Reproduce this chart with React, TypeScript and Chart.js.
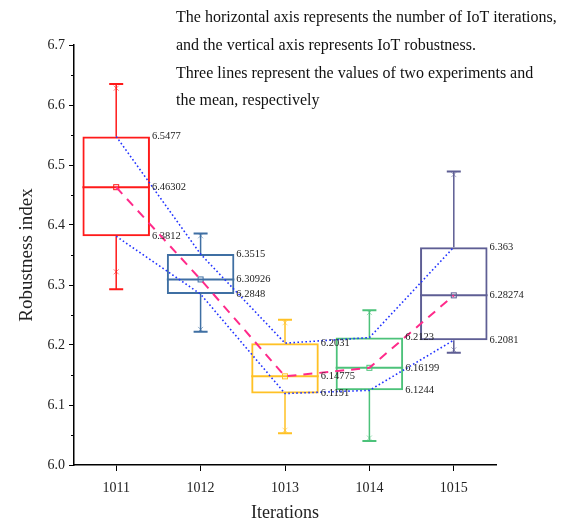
import React, { useEffect, useRef } from 'react';
import { Chart, registerables } from 'chart.js';

Chart.register(...registerables);

const categories = ['1011', '1012', '1013', '1014', '1015'];
const experiment1 = [6.5477, 6.3515, 6.2031, 6.2123, 6.363];
const experiment2 = [6.3812, 6.2848, 6.1191, 6.1244, 6.2081];
const meanValues = [6.46302, 6.30926, 6.14775, 6.16199, 6.28274];
const whiskerHigh = [6.635, 6.386, 6.242, 6.258, 6.489];
const whiskerLow = [6.293, 6.222, 6.053, 6.04, 6.187];
const markHigh = [6.628, 6.382, 6.237, 6.254, 6.484];
const markLow = [6.322, 6.226, 6.058, 6.045, 6.192];
const topLabels = ['6.5477', '6.3515', '6.2031', '6.2123', '6.363'];
const midLabels = ['6.46302', '6.30926', '6.14775', '6.16199', '6.28274'];
const lowLabels = ['6.3812', '6.2848', '6.1191', '6.1244', '6.2081'];
const boxColors = ['#ff1a1a', '#3f6fa3', '#ffc125', '#4cc27a', '#5e5e94'];
const noteLines = [
  'The horizontal axis represents the number of IoT iterations,',
  'and the vertical axis represents IoT robustness.',
  'Three lines represent the values of two experiments and',
  'the mean, respectively',
];
const minorTicks = [6.05, 6.15, 6.25, 6.35, 6.45, 6.55, 6.65];

const SERIF = '"Liberation Serif", "Times New Roman", serif';

const boxPlugin = {
  id: 'boxExtras',
  beforeDatasetsDraw(chart: any) {
    const { ctx, scales } = chart;
    const x = scales.x;
    const y = scales.y;
    const barMeta = chart.getDatasetMeta(3);
    ctx.save();
    categories.forEach((_, i) => {
      const cx = x.getPixelForValue(i);
      const bar = barMeta.data[i];
      const half = bar ? bar.width / 2 : 33;
      const col = boxColors[i];
      ctx.strokeStyle = col;
      ctx.lineWidth = 1.5;
      ctx.beginPath();
      ctx.moveTo(cx, y.getPixelForValue(experiment1[i]));
      ctx.lineTo(cx, y.getPixelForValue(whiskerHigh[i]));
      ctx.moveTo(cx, y.getPixelForValue(experiment2[i]));
      ctx.lineTo(cx, y.getPixelForValue(whiskerLow[i]));
      ctx.stroke();
      ctx.lineWidth = 2;
      ctx.beginPath();
      ctx.moveTo(cx - 7, y.getPixelForValue(whiskerHigh[i]));
      ctx.lineTo(cx + 7, y.getPixelForValue(whiskerHigh[i]));
      ctx.moveTo(cx - 7, y.getPixelForValue(whiskerLow[i]));
      ctx.lineTo(cx + 7, y.getPixelForValue(whiskerLow[i]));
      ctx.stroke();
      ctx.lineWidth = 2;
      ctx.beginPath();
      ctx.moveTo(cx - half, y.getPixelForValue(meanValues[i]));
      ctx.lineTo(cx + half, y.getPixelForValue(meanValues[i]));
      ctx.stroke();
      ctx.globalAlpha = 0.55;
      ctx.lineWidth = 1;
      [markHigh[i], markLow[i]].forEach((v) => {
        const py = y.getPixelForValue(v);
        ctx.beginPath();
        ctx.moveTo(cx - 2.5, py - 2.5);
        ctx.lineTo(cx + 2.5, py + 2.5);
        ctx.moveTo(cx + 2.5, py - 2.5);
        ctx.lineTo(cx - 2.5, py + 2.5);
        ctx.stroke();
      });
      ctx.globalAlpha = 1;
      ctx.lineWidth = 1;
      const my = y.getPixelForValue(meanValues[i]);
      ctx.strokeRect(cx - 2.5, my - 2.5, 5, 5);
    });
    ctx.restore();
  },
  afterDatasetsDraw(chart: any) {
    const { ctx, scales } = chart;
    const x = scales.x;
    const y = scales.y;
    const barMeta = chart.getDatasetMeta(3);
    ctx.save();
    ctx.font = '10.5px ' + SERIF;
    ctx.fillStyle = '#222';
    ctx.textBaseline = 'middle';
    ctx.textAlign = 'left';
    categories.forEach((_, i) => {
      const cx = x.getPixelForValue(i);
      const bar = barMeta.data[i];
      const half = bar ? bar.width / 2 : 33;
      const lx = cx + half + 2;
      ctx.fillText(topLabels[i], lx, y.getPixelForValue(experiment1[i]));
      ctx.fillText(midLabels[i], lx, y.getPixelForValue(meanValues[i]));
      ctx.fillText(lowLabels[i], lx, y.getPixelForValue(experiment2[i]));
    });
    ctx.restore();
  },
  afterDraw(chart: any) {
    const { ctx, scales } = chart;
    const y = scales.y;
    const axisX = chart.chartArea.left;
    ctx.save();
    ctx.strokeStyle = '#000';
    ctx.lineWidth = 1;
    ctx.beginPath();
    minorTicks.forEach((v) => {
      const py = Math.round(y.getPixelForValue(v)) + 0.5;
      ctx.moveTo(axisX - 3, py);
      ctx.lineTo(axisX, py);
    });
    ctx.stroke();
    ctx.font = '16px ' + SERIF;
    ctx.fillStyle = '#111';
    ctx.textBaseline = 'middle';
    ctx.textAlign = 'left';
    const ys = [18, 46, 74, 101];
    noteLines.forEach((t, i) => ctx.fillText(t, 176, ys[i]));
    ctx.restore();
  },
};

export default function App() {
  const ref = useRef<HTMLCanvasElement>(null);
  useEffect(() => {
    if (!ref.current) return;
    const chart = new Chart(ref.current, {
      type: 'bar',
      data: {
        labels: categories,
        datasets: [
          {
            type: 'line',
            label: 'Mean',
            data: meanValues,
            borderColor: '#ff2a8a',
            borderWidth: 2,
            borderDash: [9, 7],
            pointRadius: 0,
            fill: false,
          } as any,
          {
            type: 'line',
            label: 'Experiment 1',
            data: experiment1,
            borderColor: '#2233ff',
            borderWidth: 1.6,
            borderDash: [1.6, 2.4],
            pointRadius: 0,
            fill: false,
          },
          {
            type: 'line',
            label: 'Experiment 2',
            data: experiment2,
            borderColor: '#2233ff',
            borderWidth: 1.6,
            borderDash: [1.6, 2.4],
            pointRadius: 0,
            fill: false,
          },
          {
            type: 'bar',
            label: 'Box',
            data: categories.map((_, i) => [experiment2[i], experiment1[i]]) as any,
            backgroundColor: 'rgba(0,0,0,0)',
            borderColor: boxColors,
            borderWidth: 2,
            borderSkipped: false,
            categoryPercentage: 0.8,
            barPercentage: 1,
          },
        ],
      },
      options: {
        responsive: false,
        animation: false,
        layout: { padding: { top: 45, right: 68, left: 0, bottom: 0 } },
        plugins: { legend: { display: false }, tooltip: { enabled: false } },
        scales: {
          x: {
            type: 'category',
            offset: true,
            grid: { offset: false, drawOnChartArea: false, drawTicks: true, tickLength: 6, color: '#000' },
            border: { display: true, color: '#000', width: 1.5 },
            ticks: { color: '#222', font: { family: SERIF, size: 14 }, padding: 9, maxRotation: 0 },
            title: { display: true, text: 'Iterations', color: '#222', font: { family: SERIF, size: 18 }, padding: { top: 0, bottom: 0 } },
            afterFit: (s: any) => { s.height = 59; },
          },
          y: {
            type: 'linear',
            min: 6.0,
            max: 6.7,
            grid: { drawOnChartArea: false, drawTicks: true, tickLength: 5, color: '#000' },
            border: { display: true, color: '#000', width: 1.5 },
            ticks: { stepSize: 0.1, color: '#222', font: { family: SERIF, size: 14 }, padding: 4, callback: (v: any) => Number(v).toFixed(1) },
            title: { display: true, text: 'Robustness index', color: '#222', font: { family: SERIF, size: 19 }, padding: { top: 16, bottom: 0 } },
            afterFit: (s: any) => { s.width = 74; },
          },
        },
      },
      plugins: [boxPlugin],
    });
    return () => chart.destroy();
  }, []);
  return (
    <div style={{ position: 'fixed', left: 0, top: 0, width: 564, height: 524, background: '#fff' }}>
      <canvas ref={ref} width={564} height={524} />
    </div>
  );
}
